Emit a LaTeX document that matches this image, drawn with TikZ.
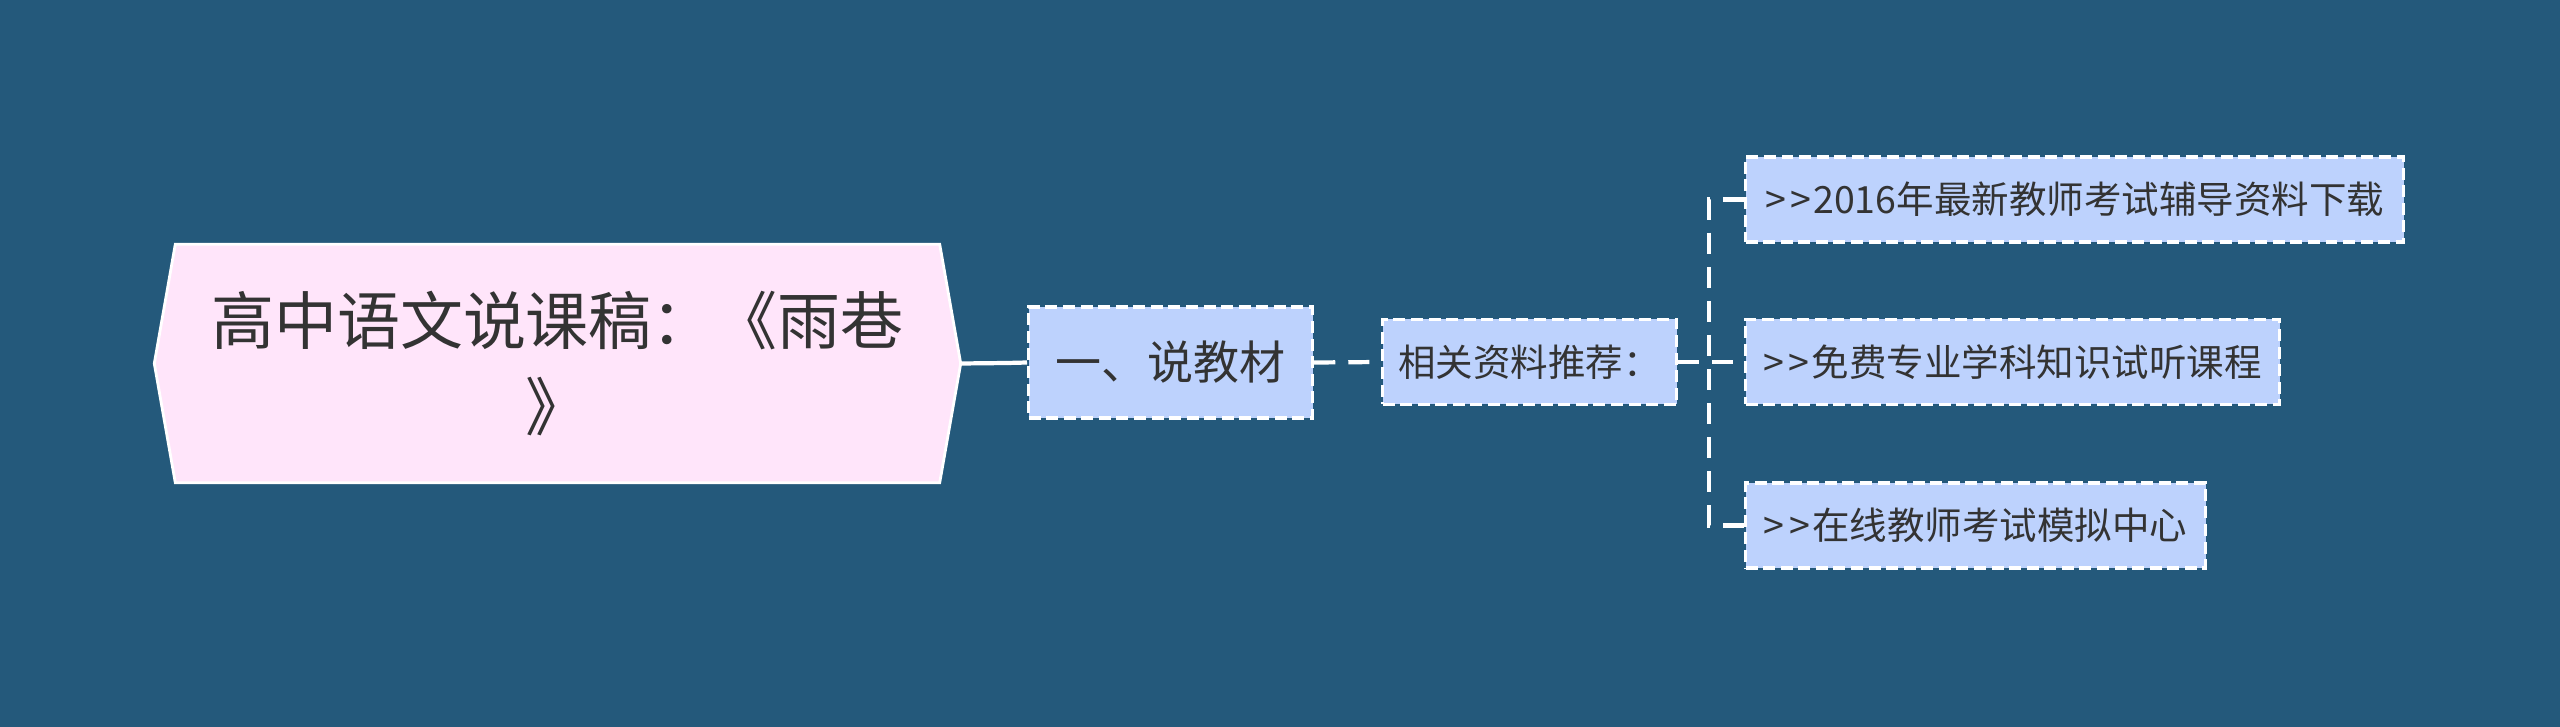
\documentclass[tikz,border=0pt]{standalone}
\usepackage{fontspec}
\setmainfont{Noto Sans CJK SC}
\usetikzlibrary{positioning, calc, backgrounds}
\definecolor{cBg}{RGB}{36,89,123}
\definecolor{cPink}{RGB}{255,229,250}
\definecolor{cBlue}{RGB}{189,210,253}
\definecolor{cText}{RGB}{51,51,51}
\newcommand{\gtgt}{>\hspace{0.12em}>\hspace{0.06em}}

\begin{document}
\begin{tikzpicture}[x=0.1mm, y=-0.1mm,
            rootbox/.style={minimum width=80.5mm, minimum height=23.7mm, inner sep=0pt, align=center,
              text=cText, font=\fontsize{6.3mm}{8.6mm}\selectfont},
            topicbox/.style={draw=white, dash pattern=on 3.4pt off 1.6pt, line width=0.9pt, fill=cBlue,
              anchor=west, minimum height=11.1mm, inner xsep=0pt, text=cText, font=\fontsize{4.6mm}{5.5mm}\selectfont},
            subbox/.style={topicbox, minimum height=8.5mm, font=\fontsize{3.75mm}{4.4mm}\selectfont},
            link/.style={draw=white, line width=1.2pt, dash pattern=on 6pt off 3.7pt}]
            \node[rootbox] (root) at (557.5,363.5) {高中语文说课稿：《雨巷\\》};
            \node[topicbox, minimum width=28.4mm] (topic) at (1027,362.5) {一、说教材};
            \node[subbox, minimum width=29.4mm] (sub) at (1381,362) {相关资料推荐：};
            \node[subbox, minimum width=65.8mm] (c1) at (1744,199.5) {\gtgt 2016年最新教师考试辅导资料下载};
            \node[subbox, minimum width=53.4mm] (c2) at (1744,362) {\gtgt 免费专业学科知识试听课程};
            \node[subbox, minimum width=46mm]   (c3) at (1744,525.5) {\gtgt 在线教师考试模拟中心};
            \coordinate (joint) at (1007,363);
            \coordinate (trunk) at (1709,362);
            \draw[white, line width=1.2pt] (root.east) -- (joint);
            \draw[link] (joint) -- (topic.west);
            \draw[link] (topic.east) -- (sub.west);
            \draw[link] (sub.east) -- (c2.west);
            \draw[link] (c1.west) -- (c1.west -| trunk) -- (c3.west -| trunk) -- (c3.west);
            \begin{scope}[on background layer]
              \path[use as bounding box, fill=cBg] (0,0) rectangle (2560,727);
              \draw[white, line width=0.8pt, fill=cPink] (root.west) -- ([xshift=2.1mm]root.north west)
                -- ([xshift=-2.1mm]root.north east) -- (root.east) -- ([xshift=-2.1mm]root.south east)
                -- ([xshift=2.1mm]root.south west) -- cycle;
            \end{scope}
        \end{tikzpicture}
\end{document}
